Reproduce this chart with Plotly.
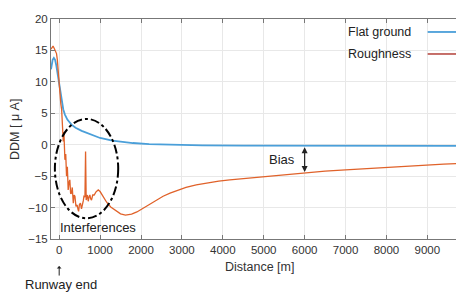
import plotly.graph_objects as go

# ---- data ----
flat_x = [-200, -180, -160, -130, -100, -70, -40, -20, 0, 30, 60, 100, 140, 200, 300, 400,
          550, 700, 850, 1000, 1300, 1600, 1800, 2200, 2800, 3500, 4500, 6000, 7500, 9000, 9700]
flat_y = [12.0, 12.9, 13.5, 13.8, 13.5, 12.6, 11.4, 10.4, 9.4, 8.2, 7.0, 5.6, 4.8, 4.0, 3.2, 2.7,
          2.2, 1.85, 1.4, 1.07, 0.65, 0.4, 0.27, 0.1, -0.05, -0.12, -0.15, -0.17, -0.17, -0.17, -0.17]

rough_x = [-200, -170, -150, -120, -90, -65, -45, -25, 0, 20, 40, 60, 75, 90, 100, 115, 140, 160,
           180, 200, 220, 240, 260, 280, 300, 320, 345, 365, 385, 410, 440, 460, 475, 495, 520,
           545, 570, 590, 605, 630, 645, 660, 670, 690, 710, 730, 750, 770, 790, 820, 855, 900,
           955, 1000, 1080, 1160, 1260, 1360, 1500, 1620, 1770, 1900, 2050, 2200, 2380, 2540,
           2710, 2900, 3100, 3350, 3600, 3900, 4170, 4500, 5000, 5500, 6000, 6500, 7000, 7500,
           8000, 8500, 9000, 9400, 9700]
rough_y = [15.2, 15.6, 15.7, 15.3, 14.9, 14.5, 13.5, 11.5, 9.2, 7.7, 6.5, 5.6, 3.0, 2.4, 0.5, 2.0,
           -2.4, -1.5, -5.0, -3.5, -7.2, -6.0, -5.6, -7.8, -7.7, -6.8, -9.3, -8.0, -8.2, -9.8,
           -9.6, -10.3, -10.6, -9.5, -9.3, -10.2, -9.6, -8.9, -8.2, -8.3, -1.1, -8.8, -8.5, -8.0,
           -9.0, -8.3, -8.0, -8.6, -8.8, -8.0, -8.0, -7.5, -7.2, -7.45, -8.3, -9.15, -9.9, -10.4,
           -11.0, -11.2, -11.05, -10.7, -10.1, -9.45, -8.8, -8.2, -7.7, -7.2, -6.8, -6.4,
           -6.1, -5.8, -5.6, -5.4, -5.05, -4.7, -4.4, -4.2, -4.0, -3.8, -3.56, -3.4, -3.25, -3.1, -3.0]

x_ticks = [0, 1000, 2000, 3000, 4000, 5000, 6000, 7000, 8000, 9000]
y_ticks = [-15, -10, -5, 0, 5, 10, 15, 20]
series_names = ["Flat ground", "Roughness"]

BLUE = "#4a9fd9"
ORANGE = "#e0622a"
FONT = "Liberation Sans, Arial, sans-serif"

fig = go.Figure()
fig.add_trace(go.Scatter(x=flat_x, y=flat_y, mode="lines", name=series_names[0],
                         line=dict(color=BLUE, width=1.8), showlegend=False))
fig.add_trace(go.Scatter(x=rough_x, y=rough_y, mode="lines", name=series_names[1],
                         line=dict(color=ORANGE, width=1.3), showlegend=False))

# custom legend (text left of line sample, MATLAB style)
for i, (name, col) in enumerate(zip(series_names, [BLUE, "#c0605a"])):
    yy = 0.941 - i * 0.10
    fig.add_annotation(xref="paper", yref="paper", x=0.893, y=yy, text=name, showarrow=False,
                       xanchor="right", yanchor="middle", font=dict(size=12.5, color="#222"))
    fig.add_shape(type="line", xref="paper", yref="paper", x0=0.93, x1=1.0, y0=yy, y1=yy,
                  line=dict(color=col, width=1.8))

# interference ellipse
fig.add_shape(type="circle", xref="x", yref="y", x0=-105, x1=1443, y0=-11.7, y1=4.1,
              line=dict(color="black", width=2, dash="dashdot"))
fig.add_annotation(x=946, y=-13.2, text="Interferences", showarrow=False,
                   font=dict(size=13, color="#222"))

# bias arrow
fig.add_annotation(x=6000, y=-4.35, ax=6000, ay=-0.17, axref="x", ayref="y", text="",
                   showarrow=True, arrowhead=2, arrowside="end+start", arrowsize=1,
                   arrowwidth=1.2, arrowcolor="#222")
fig.add_annotation(x=5450, y=-2.35, text="Bias", showarrow=False, font=dict(size=13, color="#222"))

# runway end
fig.add_annotation(x=0, y=-0.123, xref="x", yref="paper", ax=0, ay=11, text="",
                   showarrow=True, arrowhead=1, arrowsize=0.8, arrowwidth=1, arrowcolor="#222")
fig.add_annotation(x=52, y=-0.209, xref="x", yref="paper", text="Runway end", showarrow=False,
                   xanchor="center", yanchor="middle", font=dict(size=13, color="#222"))

# axis titles
fig.add_annotation(xref="paper", yref="paper", x=0.514, y=-0.127, text="Distance [m]",
                   showarrow=False, yanchor="middle", font=dict(size=12.5, color="#333"))
fig.add_annotation(xref="paper", yref="paper", x=-0.089, y=0.50, text="DDM [ μ A]",
                   textangle=-90, showarrow=False, xanchor="center", yanchor="middle",
                   font=dict(size=12.5, color="#333"))

fig.update_xaxes(range=[-200, 9700], tickvals=x_ticks, ticks="inside", ticklen=4,
                 tickcolor="#777", showgrid=True, gridcolor="#e8e8e8", gridwidth=1,
                 showline=True, linecolor="#777", linewidth=1, mirror="ticks", zeroline=False,
                 tickfont=dict(size=11.5, color="#333"))
fig.update_yaxes(range=[-15, 20], tickvals=y_ticks, ticks="inside", ticklen=4,
                 tickcolor="#777", showgrid=True, gridcolor="#e8e8e8", gridwidth=1,
                 showline=True, linecolor="#777", linewidth=1, zeroline=False,
                 tickfont=dict(size=11.5, color="#333"))

fig.update_layout(width=456, height=292, margin=dict(l=51, r=0, t=19, b=53),
                  paper_bgcolor="white", plot_bgcolor="white",
                  font=dict(family=FONT, size=12, color="#333"))

fig.write_html("out.html", config={"responsive": False, "displayModeBar": False},
               post_script="document.body.style.margin='0';document.body.style.overflow='hidden';")
